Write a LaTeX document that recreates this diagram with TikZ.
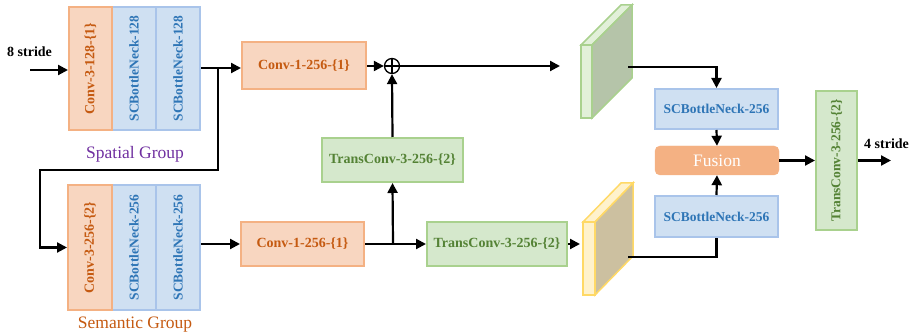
\documentclass[tikz,border=0pt]{standalone}
\usepackage{fontspec}
\setmainfont{Liberation Serif}
\usetikzlibrary{arrows.meta}
\definecolor{orfill}{HTML}{F8D6C0}
\definecolor{ordraw}{HTML}{F4B183}
\definecolor{ortext}{HTML}{C55A11}
\definecolor{blfill}{HTML}{CFE0F2}
\definecolor{bldraw}{HTML}{A9C4EA}
\definecolor{bltext}{HTML}{2E75B6}
\definecolor{grfill}{HTML}{D5E8CC}
\definecolor{grdraw}{HTML}{A9D18E}
\definecolor{grtext}{HTML}{548235}
\definecolor{fusfill}{HTML}{F4B183}
\definecolor{gfront}{HTML}{E2F0D9}
\definecolor{gside}{HTML}{B5C4A9}
\definecolor{yfront}{HTML}{FFF2CC}
\definecolor{yside}{HTML}{CCC0A0}
\definecolor{ydraw}{HTML}{FFD966}
\definecolor{purp}{HTML}{7030A0}
\tikzset{
  box/.style={draw, line width=2pt, inner sep=0pt, font=\fontsize{14}{16}\selectfont\bfseries},
  orbox/.style={box, fill=orfill, draw=ordraw, text=ortext},
  blbox/.style={box, fill=blfill, draw=bldraw, text=bltext, font=\fontsize{13.5}{15}\selectfont\bfseries},
  grbox/.style={box, fill=grfill, draw=grdraw, text=grtext},
  arr/.style={line width=2.2pt, -{Triangle[length=10pt,width=10pt]}},
  ln/.style={line width=2.2pt},
  lbl/.style={font=\fontsize{14}{16}\selectfont\bfseries, inner sep=0pt},
  sumnode/.style={circle, draw, line width=1.3pt, minimum size=15pt, inner sep=0pt,
    path picture={\draw[line width=1.3pt] (path picture bounding box.north) -- (path picture bounding box.south)
      (path picture bounding box.west) -- (path picture bounding box.east);}}
}
\begin{document}
\begin{tikzpicture}[x=1pt,y=-1pt]
\useasboundingbox (0,0) rectangle (919,336);
% spatial group
\node[blbox, minimum width=123pt, minimum height=44pt, rotate=90] (sb1a) at (134,68.5) {SCBottleNeck-128};
\node[blbox, minimum width=123pt, minimum height=44pt, rotate=90] (sb1b) at (178,68.5) {SCBottleNeck-128};
\node[orbox, minimum width=123pt, minimum height=43pt, rotate=90] (c31) at (90.5,68.5) {Conv-3-128-\{1\}};
\node[font=\fontsize{17.5}{20}\selectfont, text=purp] (sg) at (135,154) {Spatial Group};
% semantic group
\node[blbox, minimum width=125pt, minimum height=44pt, rotate=90] (sb2a) at (134,247.5) {SCBottleNeck-256};
\node[blbox, minimum width=125pt, minimum height=44pt, rotate=90] (sb2b) at (178,247.5) {SCBottleNeck-256};
\node[orbox, minimum width=125pt, minimum height=44pt, rotate=90] (c32) at (90,247.5) {Conv-3-256-\{2\}};
\node[font=\fontsize{17.5}{20}\selectfont, text=ortext] (smg) at (135,325) {Semantic Group};
% middle
\node[orbox, minimum width=124pt, minimum height=47pt] (conv1a) at (304,66) {Conv-1-256-\{1\}};
\node[orbox, minimum width=123pt, minimum height=44pt] (conv1b) at (302.5,244) {Conv-1-256-\{1\}};
\node[grbox, minimum width=141pt, minimum height=44pt] (tc1) at (392.5,160) {TransConv-3-256-\{2\}};
\node[grbox, minimum width=140pt, minimum height=44pt] (tc2) at (497,244) {TransConv-3-256-\{2\}};
\node[sumnode] (plus) at (392,66) {};
% slabs
\draw[grdraw, line width=1.5pt, fill=gfront] (581,45) rectangle (592,118);
\draw[grdraw, line width=1.5pt, fill=gfront] (581,45) -- (621,5) -- (632,5) -- (592,45) -- cycle;
\draw[grdraw, line width=1.5pt, fill=gside] (592,45) -- (632,5) -- (632,78) -- (592,118) -- cycle;
\draw[ydraw, line width=1.5pt, fill=yfront] (583,222) rectangle (595,295);
\draw[ydraw, line width=1.5pt, fill=yfront] (583,222) -- (621,183) -- (633,183) -- (595,222) -- cycle;
\draw[ydraw, line width=1.5pt, fill=yside] (595,222) -- (633,183) -- (633,256) -- (595,295) -- cycle;
\coordinate (gin) at (560,66);
\coordinate (gout) at (628,67);
\coordinate (yin) at (580,244);
\coordinate (yout) at (628,257);
% right part
\node[blbox, minimum width=123pt, minimum height=40pt] (sbu) at (716.5,109) {SCBottleNeck-256};
\node[draw=fusfill, fill=fusfill, rounded corners=5pt, minimum width=124pt, minimum height=29pt, text=white, font=\fontsize{17.5}{20}\selectfont] (fus) at (717,160.5) {Fusion};
\node[blbox, minimum width=123pt, minimum height=41pt] (sbl) at (716.5,216.5) {SCBottleNeck-256};
\node[grbox, minimum width=139pt, minimum height=41pt, rotate=90, font=\fontsize{13.5}{16}\selectfont\bfseries] (tc3) at (836.5,160.5) {TransConv-3-256-\{2\}};
% labels
\node[lbl, anchor=west] (s8) at (7,52) {8 stride};
\node[lbl, anchor=west] (s4) at (864,144) {4 stride};
\coordinate (in8) at (30,70);
\coordinate (out4) at (891,160.5);
\coordinate (b1) at (218,68);
\coordinate (b2) at (218,170);
\coordinate (b3) at (40,170);
\coordinate (b4) at (393,244);
% connectors
\draw[arr] (in8) -- (in8 -| c31.north);
\draw[arr] (sb1b.south |- b1) -- (b1 -| conv1a.west);
\draw[arr] (b1) -- (b2) -- (b3) |- (c32.north);
\draw[arr] (conv1a.east) -- (plus.west);
\draw[arr] (tc1.north) -- (plus.south);
\draw[arr] (plus.east) -- (gin);
\draw[arr] (sb2b.south |- conv1b) -- (conv1b.west);
\draw[arr] (conv1b.east) -- (tc2.west);
\draw[arr] (b4) -- (tc1.south);
\draw[arr] (tc2.east) -- (yin);
\draw[arr] (gout) -| (sbu.north);
\draw[arr] (sbu.south) -- (fus.north);
\draw[ln] (yout) -| (sbl.south);
\draw[arr] (sbl.north) -- (fus.south);
\draw[arr] (fus.east) -- (tc3.north);
\draw[arr] (tc3.south) -- (out4);
\end{tikzpicture}
\end{document}
